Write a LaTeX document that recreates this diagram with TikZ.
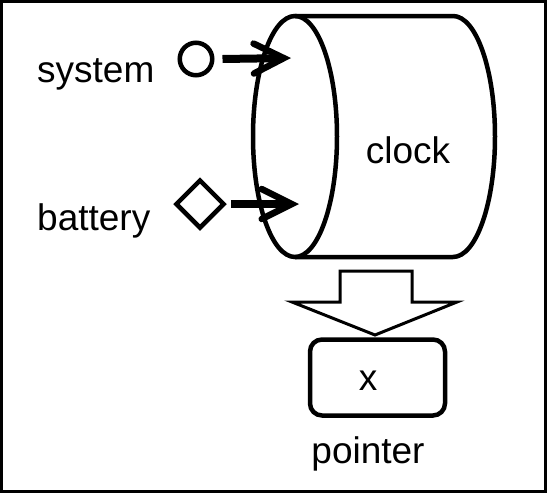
\documentclass[tikz,border=0pt]{standalone}
\usepackage{fontspec}
\setmainfont{Liberation Sans}
\usetikzlibrary{shapes.geometric,arrows.meta}
\begin{document}
\begin{tikzpicture}[x=1pt,y=-1pt,
  lbl/.style={inner sep=0pt,font=\fontsize{37}{42}\selectfont},
  conn/.style={line width=8pt,-{Straight Barb[length=30pt,width=30pt,line width=6.5pt,line cap=round,line join=miter]}},
  shp/.style={draw,line width=4.5pt,inner sep=0pt}]
\useasboundingbox (0,0) rectangle (547,493);
\draw[line width=3pt] (1.5,1.5) rectangle (545.5,491.5);
% cylinder
\draw[line width=4.5pt,line join=round] (295,16) -- (453,16) arc[start angle=-90,end angle=90,x radius=42,y radius=120.5] -- (295,257);
\draw[line width=4.5pt] (295,136.5) ellipse[x radius=42,y radius=120.5];
\node[lbl] (clock) at (408,150) {clock};
% inputs
\node[shp,circle,minimum size=32.5pt] (sys) at (196,59) {};
\node[shp,diamond,minimum width=49pt,minimum height=49pt] (bat) at (200,204) {};
\node[lbl,anchor=base west] (syslbl) at (37,82) {system};
\node[lbl,anchor=base west] (batlbl) at (37,230) {battery};
\coordinate (t1) at (291,58);
\coordinate (t2) at (299,204);
\draw[conn] ([xshift=8pt]sys.east) -- (t1);
\draw[conn] ([xshift=4pt]bat.east) -- (t2);
% block arrow
\draw[line width=3pt,line join=miter] (340,271) -- (412,271) -- (412,302) -- (457,302) -- (375,335) -- (292,302) -- (340,302) -- cycle;
% pointer box
\node[shp,rounded corners=12pt,minimum width=135pt,minimum height=76pt] (x) at (377.5,377.5) {};
\node[lbl] (xl) at (368,381) {x};
\node[lbl,anchor=base] (ptr) at (368,463) {pointer};
\end{tikzpicture}
\end{document}
